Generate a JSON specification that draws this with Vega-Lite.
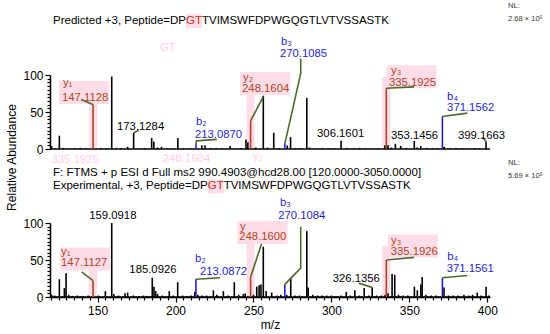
{
"$schema":"https://vega.github.io/schema/vega-lite/v6.json",
"width":440,"height":297,
"autosize":{"type":"none"},
"padding":{"left":50,"top":0,"right":60,"bottom":37},
"background":"white",
"config":{"view":{"stroke":null},"font":"Liberation Sans",
 "axis":{"labelFont":"Liberation Sans","labelFontSize":12,"labelColor":"#000","tickColor":"#000","domainColor":"#000","titleFont":"Liberation Sans","titleFontSize":12,"titleFontWeight":"normal","titleColor":"#000","grid":false,"domainWidth":1.5,"tickWidth":1.2},
 "text":{"font":"Liberation Sans","fontSize":11.3,"align":"left","baseline":"middle"}},
"datasets":{
"topPeaks":[
{"mz":120.5,"ab":4,"ion":"n"},{"mz":123,"ab":1,"ion":"n"},{"mz":125.5,"ab":18,"ion":"n"},{"mz":128,"ab":1.5,"ion":"n"},{"mz":131,"ab":1,"ion":"n"},{"mz":135,"ab":1,"ion":"n"},{"mz":139,"ab":1.5,"ion":"n"},{"mz":143,"ab":1,"ion":"n"},{"mz":147.11,"ab":60,"ion":"y"},{"mz":152,"ab":1.5,"ion":"n"},{"mz":156,"ab":1,"ion":"n"},{"mz":159.09,"ab":98,"ion":"n"},{"mz":162,"ab":1.5,"ion":"n"},{"mz":165,"ab":1,"ion":"n"},{"mz":169.3,"ab":3,"ion":"n"},{"mz":173.13,"ab":22,"ion":"n"},{"mz":177,"ab":1,"ion":"n"},{"mz":180.5,"ab":1.5,"ion":"n"},{"mz":184.7,"ab":15,"ion":"n"},{"mz":186.1,"ab":10,"ion":"n"},{"mz":188.5,"ab":2,"ion":"n"},{"mz":191,"ab":3,"ion":"n"},{"mz":195,"ab":1,"ion":"n"},{"mz":201.5,"ab":15,"ion":"n"},{"mz":205,"ab":1,"ion":"n"},{"mz":209,"ab":1,"ion":"n"},{"mz":213.09,"ab":6,"ion":"b"},{"mz":216.9,"ab":5,"ion":"n"},{"mz":218.9,"ab":5,"ion":"n"},{"mz":222,"ab":1.5,"ion":"n"},{"mz":226,"ab":1,"ion":"n"},{"mz":230,"ab":1,"ion":"n"},{"mz":235,"ab":4,"ion":"n"},{"mz":239,"ab":1,"ion":"n"},{"mz":242,"ab":1.5,"ion":"n"},{"mz":245.2,"ab":13,"ion":"n"},{"mz":246.4,"ab":9,"ion":"n"},{"mz":248.16,"ab":38,"ion":"y"},{"mz":251.5,"ab":2,"ion":"n"},{"mz":256.3,"ab":72,"ion":"n"},{"mz":259,"ab":2,"ion":"n"},{"mz":263,"ab":22,"ion":"n"},{"mz":266.5,"ab":1.5,"ion":"n"},{"mz":270.11,"ab":7,"ion":"b"},{"mz":271.7,"ab":5,"ion":"n"},{"mz":273.8,"ab":16,"ion":"n"},{"mz":277,"ab":1.5,"ion":"n"},{"mz":280,"ab":1,"ion":"n"},{"mz":284.2,"ab":69,"ion":"n"},{"mz":286,"ab":2,"ion":"n"},{"mz":290,"ab":1,"ion":"n"},{"mz":294,"ab":1.5,"ion":"n"},{"mz":298,"ab":1,"ion":"n"},{"mz":302,"ab":1,"ion":"n"},{"mz":306.16,"ab":11,"ion":"n"},{"mz":310,"ab":1.5,"ion":"n"},{"mz":314,"ab":1,"ion":"n"},{"mz":318,"ab":1.5,"ion":"n"},{"mz":322,"ab":1,"ion":"n"},{"mz":326,"ab":1,"ion":"n"},{"mz":330,"ab":1,"ion":"n"},{"mz":334.3,"ab":5,"ion":"n"},{"mz":335.19,"ab":82,"ion":"y"},{"mz":336.3,"ab":5,"ion":"n"},{"mz":338.5,"ab":2,"ion":"n"},{"mz":341,"ab":7,"ion":"n"},{"mz":344.4,"ab":4,"ion":"n"},{"mz":348,"ab":1.5,"ion":"n"},{"mz":353.15,"ab":11,"ion":"n"},{"mz":355,"ab":2,"ion":"n"},{"mz":357.3,"ab":4,"ion":"n"},{"mz":361,"ab":1.5,"ion":"n"},{"mz":365,"ab":1,"ion":"n"},{"mz":368,"ab":1,"ion":"n"},{"mz":371.16,"ab":44,"ion":"b"},{"mz":372.3,"ab":3,"ion":"n"},{"mz":376,"ab":1,"ion":"n"},{"mz":380,"ab":1.5,"ion":"n"},{"mz":384,"ab":1,"ion":"n"},{"mz":388,"ab":1,"ion":"n"},{"mz":392,"ab":1.5,"ion":"n"},{"mz":395,"ab":1,"ion":"n"},{"mz":399.17,"ab":10,"ion":"n"}],
"botPeaks":[
{"mz":120.5,"ab":3,"ion":"n"},{"mz":122.5,"ab":2,"ion":"n"},{"mz":125.5,"ab":24,"ion":"n"},{"mz":128.7,"ab":12,"ion":"n"},{"mz":129.8,"ab":32,"ion":"n"},{"mz":131.5,"ab":3,"ion":"n"},{"mz":134,"ab":1.5,"ion":"n"},{"mz":137,"ab":2,"ion":"n"},{"mz":140.5,"ab":1.5,"ion":"n"},{"mz":144,"ab":2,"ion":"n"},{"mz":147.11,"ab":22,"ion":"y"},{"mz":150.5,"ab":2,"ion":"n"},{"mz":155,"ab":8,"ion":"n"},{"mz":159.09,"ab":100,"ion":"n"},{"mz":160.5,"ab":4,"ion":"n"},{"mz":163.5,"ab":2,"ion":"n"},{"mz":167.6,"ab":5,"ion":"n"},{"mz":169.3,"ab":6,"ion":"n"},{"mz":173,"ab":2,"ion":"n"},{"mz":176.5,"ab":1.5,"ion":"n"},{"mz":179.5,"ab":2,"ion":"n"},{"mz":182,"ab":1.5,"ion":"n"},{"mz":185.09,"ab":26,"ion":"n"},{"mz":186.2,"ab":14,"ion":"n"},{"mz":187.3,"ab":8,"ion":"n"},{"mz":188.5,"ab":4,"ion":"n"},{"mz":191.5,"ab":2,"ion":"n"},{"mz":196,"ab":8,"ion":"n"},{"mz":198.5,"ab":2,"ion":"n"},{"mz":201.4,"ab":20,"ion":"n"},{"mz":204.5,"ab":2,"ion":"n"},{"mz":207.5,"ab":1.5,"ion":"n"},{"mz":210,"ab":2,"ion":"n"},{"mz":212.4,"ab":7,"ion":"n"},{"mz":213.09,"ab":24,"ion":"b"},{"mz":214.3,"ab":3,"ion":"n"},{"mz":217,"ab":2,"ion":"n"},{"mz":220,"ab":2,"ion":"n"},{"mz":224.3,"ab":9,"ion":"n"},{"mz":226.5,"ab":3,"ion":"n"},{"mz":230.7,"ab":8,"ion":"n"},{"mz":233.5,"ab":2,"ion":"n"},{"mz":237.7,"ab":20,"ion":"n"},{"mz":240.5,"ab":3,"ion":"n"},{"mz":243.5,"ab":4,"ion":"n"},{"mz":244.7,"ab":5,"ion":"n"},{"mz":248.16,"ab":27,"ion":"y"},{"mz":250,"ab":3,"ion":"n"},{"mz":252.1,"ab":14,"ion":"n"},{"mz":253.6,"ab":16,"ion":"n"},{"mz":254.8,"ab":17,"ion":"n"},{"mz":256.3,"ab":68,"ion":"n"},{"mz":258.1,"ab":8,"ion":"n"},{"mz":261.7,"ab":6,"ion":"n"},{"mz":265,"ab":2,"ion":"n"},{"mz":267.5,"ab":3,"ion":"n"},{"mz":270.11,"ab":17,"ion":"b"},{"mz":271.3,"ab":3,"ion":"n"},{"mz":273.9,"ab":26,"ion":"n"},{"mz":276.5,"ab":2,"ion":"n"},{"mz":279.5,"ab":2,"ion":"n"},{"mz":284.2,"ab":89,"ion":"n"},{"mz":285.1,"ab":13,"ion":"n"},{"mz":288,"ab":3,"ion":"n"},{"mz":291,"ab":2,"ion":"n"},{"mz":294,"ab":2,"ion":"n"},{"mz":297,"ab":2,"ion":"n"},{"mz":300,"ab":2,"ion":"n"},{"mz":303,"ab":1.5,"ion":"n"},{"mz":306,"ab":2,"ion":"n"},{"mz":309.5,"ab":7,"ion":"n"},{"mz":312,"ab":2,"ion":"n"},{"mz":315,"ab":9,"ion":"n"},{"mz":318,"ab":2,"ion":"n"},{"mz":321,"ab":12,"ion":"n"},{"mz":324,"ab":2,"ion":"n"},{"mz":326.14,"ab":13,"ion":"n"},{"mz":329,"ab":2,"ion":"n"},{"mz":332,"ab":2,"ion":"n"},{"mz":334.5,"ab":3,"ion":"n"},{"mz":335.19,"ab":50,"ion":"y"},{"mz":336.3,"ab":5,"ion":"n"},{"mz":338.9,"ab":31,"ion":"n"},{"mz":340.6,"ab":30,"ion":"n"},{"mz":343,"ab":3,"ion":"n"},{"mz":346,"ab":2,"ion":"n"},{"mz":349,"ab":2,"ion":"n"},{"mz":353.2,"ab":14,"ion":"n"},{"mz":355.1,"ab":9,"ion":"n"},{"mz":357.3,"ab":17,"ion":"n"},{"mz":358.2,"ab":27,"ion":"n"},{"mz":360.5,"ab":3,"ion":"n"},{"mz":364,"ab":2,"ion":"n"},{"mz":367,"ab":2,"ion":"n"},{"mz":371.16,"ab":26,"ion":"b"},{"mz":372.2,"ab":13,"ion":"n"},{"mz":375,"ab":2,"ion":"n"},{"mz":378,"ab":2,"ion":"n"},{"mz":381,"ab":2,"ion":"n"},{"mz":385,"ab":3,"ion":"n"},{"mz":388,"ab":2,"ion":"n"},{"mz":390.5,"ab":3,"ion":"n"},{"mz":393.5,"ab":6,"ion":"n"},{"mz":396,"ab":2,"ion":"n"},{"mz":399.17,"ab":14,"ion":"n"},{"mz":401,"ab":2,"ion":"n"}],
"topLabels":[
{"lx":127.8,"ly":88.8,"txt":"y₁","ion":"y"},{"lx":127.2,"ly":69.3,"txt":"147.1128","ion":"y"},
{"lx":162.5,"ly":29.5,"txt":"173.1284","ion":"n"},
{"lx":213.1,"ly":36.9,"txt":"b₂","ion":"b"},{"lx":212.5,"ly":18.9,"txt":"213.0870","ion":"b"},
{"lx":243.3,"ly":96.5,"txt":"y₂","ion":"y"},{"lx":242.7,"ly":80.5,"txt":"248.1604","ion":"y"},
{"lx":267.7,"ly":144.5,"txt":"b₃","ion":"b"},{"lx":267,"ly":128,"txt":"270.1085","ion":"b"},
{"lx":290.8,"ly":20.5,"txt":"306.1601","ion":"n"},
{"lx":338.2,"ly":105.5,"txt":"y₃","ion":"y"},{"lx":336.9,"ly":89.5,"txt":"335.1925","ion":"y"},
{"lx":374.2,"ly":70.7,"txt":"b₄","ion":"b"},{"lx":374.2,"ly":55,"txt":"371.1562","ion":"b"},
{"lx":338.2,"ly":17.6,"txt":"353.1456","ion":"n"},{"lx":381.2,"ly":17.6,"txt":"399.1663","ion":"n"}],
"botLabels":[
{"lx":144.7,"ly":109.5,"txt":"159.0918","ion":"n"},
{"lx":126.6,"ly":61.2,"txt":"y₁","ion":"y"},{"lx":126.6,"ly":45.5,"txt":"147.1127","ion":"y"},
{"lx":170.4,"ly":36.5,"txt":"185.0926","ion":"n"},
{"lx":212.5,"ly":50.9,"txt":"b₂","ion":"b"},{"lx":215.7,"ly":34.2,"txt":"213.0872","ion":"b"},
{"lx":241.4,"ly":95,"txt":"y","ion":"y"},{"lx":240.9,"ly":80.7,"txt":"248.1600","ion":"y"},
{"lx":267,"ly":127.5,"txt":"b₃","ion":"b"},{"lx":265.9,"ly":109.5,"txt":"270.1084","ion":"b"},
{"lx":300.8,"ly":24.7,"txt":"326.1356","ion":"n"},
{"lx":338.2,"ly":76.1,"txt":"y₃","ion":"y"},{"lx":338,"ly":60.4,"txt":"335.1926","ion":"y"},
{"lx":374.3,"ly":54.5,"txt":"b₄","ion":"b"},{"lx":373.9,"ly":37.4,"txt":"371.1561","ion":"b"}],
"topLeaders":[
{"id":"y1","ord":1,"mz":147.11,"ab":60},{"id":"y1","ord":2,"mz":139.4,"ab":67},
{"id":"a173","ord":1,"mz":173.13,"ab":22},{"id":"a173","ord":2,"mz":176.5,"ab":25.5},
{"id":"b2","ord":1,"mz":213.09,"ab":6},{"id":"b2","ord":2,"mz":213.4,"ab":11},{"id":"b2","ord":3,"mz":226.4,"ab":13},
{"id":"y2","ord":1,"mz":248.16,"ab":38},{"id":"y2","ord":2,"mz":256.3,"ab":70.7},
{"id":"b3","ord":1,"mz":270.11,"ab":7},{"id":"b3","ord":2,"mz":280.3,"ab":102},{"id":"b3","ord":3,"mz":280.3,"ab":122},
{"id":"y3","ord":1,"mz":335.19,"ab":82},{"id":"y3","ord":2,"mz":353,"ab":84},
{"id":"b4","ord":1,"mz":371.16,"ab":44},{"id":"b4","ord":2,"mz":387.2,"ab":48.5},
{"id":"a399","ord":1,"mz":399.17,"ab":10},{"id":"a399","ord":2,"mz":397,"ab":16}],
"botLeaders":[
{"id":"y1","ord":1,"mz":147.11,"ab":22},{"id":"y1","ord":2,"mz":139.8,"ab":34},
{"id":"b2","ord":1,"mz":213.09,"ab":24},{"id":"b2","ord":2,"mz":228.5,"ab":26},
{"id":"y2","ord":1,"mz":248.16,"ab":27},{"id":"y2","ord":2,"mz":255.2,"ab":72},
{"id":"b3","ord":1,"mz":270.11,"ab":17},{"id":"b3","ord":2,"mz":280.3,"ab":39},{"id":"b3","ord":3,"mz":280.3,"ab":95},
{"id":"a326","ord":1,"mz":326.14,"ab":13},{"id":"a326","ord":2,"mz":317.5,"ab":18.5},
{"id":"y3","ord":1,"mz":335.19,"ab":50},{"id":"y3","ord":2,"mz":353,"ab":53.6},
{"id":"b4","ord":1,"mz":371.16,"ab":26},{"id":"b4","ord":2,"mz":387.2,"ab":29}],
"topBoxes":[{"mz":147.11,"bx":141.3,"by":76.4},{"mz":248.16,"bx":257.4,"by":88.5},{"mz":335.19,"bx":351.4,"by":97.5}],
"botBoxes":[{"mz":147.11,"bx":141.9,"by":51.4},{"mz":248.16,"bx":255.8,"by":87.2},{"mz":335.19,"bx":352.3,"by":68.9}],
"topHead":[{"lx":121.42,"ly":173,"txt":"Predicted +3, Peptide=DP"},{"lx":216.95,"ly":173,"txt":"TVIMSWFDPWGQGTLVTVSSASTK"}],
"topGT":[{"lx":206.71,"bx":211.84,"ly":173,"txt":"GT"}],
"topNL":[{"lx":413.3,"ly":193,"txt":"NL:"},{"lx":413.3,"ly":176,"txt":"2.68 × 10⁵"}],
"ghost":[{"lx":120.5,"ly":-14.5,"txt":"335.1925"},{"lx":249.7,"ly":-11,"txt":"y₁"},{"lx":192,"ly":-13.5,"txt":"248.1604"},{"lx":190,"ly":136,"txt":"GT"}],
"botHead":[{"lx":121.42,"ly":168,"txt":"F: FTMS + p ESI d Full ms2 990.4903@hcd28.00 [120.0000-3050.0000]"},{"lx":121.42,"ly":149.5,"txt":"Experimental, +3, Peptide=DP"},{"lx":230.89,"ly":149.5,"txt":"TVIMSWFDPWGQGTLVTVSSASTK"}],
"botGT":[{"lx":220.65,"bx":225.78,"ly":149.5,"txt":"GT"}],
"botNL":[{"lx":413.3,"ly":181,"txt":"NL:"},{"lx":413.3,"ly":163.5,"txt":"5.69 × 10⁵"}]
},
"layer":[
{"layer":[
 {"data":{"name":"ghost"},"mark":{"type":"text","fontSize":11.3,"color":"#ff9fd8","opacity":0.55},
  "encoding":{"x":{"field":"lx","type":"quantitative","scale":{"domain":[119.5,401.7],"nice":false,"zero":false},"axis":null},
   "y":{"field":"ly","type":"quantitative","scale":{"domain":[0,100],"range":[149,75],"nice":false,"zero":false},"axis":null},"text":{"field":"txt"}}},
 {"data":{"name":"topBoxes"},"mark":{"type":"rule","color":"#ffdde8","strokeWidth":8},
  "encoding":{"x":{"field":"mz","type":"quantitative","axis":null},
   "y":{"field":"by","type":"quantitative","axis":null},"y2":{"datum":0}}},
 {"data":{"name":"topBoxes"},"mark":{"type":"point","shape":"M-2.17,-1H2.17V1H-2.17Z","size":529,"filled":true,"color":"#ffdde8","opacity":1,"strokeWidth":0},
  "encoding":{"x":{"field":"bx","type":"quantitative","axis":null},"y":{"field":"by","type":"quantitative","axis":null}}},
 {"data":{"name":"topGT"},"mark":{"type":"point","shape":"M-1.15,-1H1.15V1H-1.15Z","size":196,"filled":true,"color":"#ffdde8","opacity":1,"strokeWidth":0},
  "encoding":{"x":{"field":"bx","type":"quantitative","axis":null},"y":{"field":"ly","type":"quantitative","axis":null}}},
 {"data":{"values":[{}]},"mark":{"type":"rule","color":"#000","strokeWidth":1.5},
  "encoding":{"y":{"datum":0,"type":"quantitative","axis":{"orient":"left","values":[5,10,15,20,25,30,35,40,45,55,60,65,70,75,80,85,90,95],"tickSize":3,"labels":false,"domain":false,"title":null}}}},
 {"data":{"name":"topPeaks"},"mark":{"type":"rule","strokeWidth":1.6},
  "encoding":{"x":{"field":"mz","type":"quantitative","axis":null},
   "y":{"field":"ab","type":"quantitative","axis":{"orient":"left","values":[0,50,100],"tickSize":5,"labelPadding":2,"title":"Relative Abundance","titleX":-39,"titleY":157,"titleAngle":270,"titleAlign":"center","titleBaseline":"middle"}},
   "y2":{"datum":0},
   "color":{"field":"ion","type":"nominal","scale":{"domain":["n","y","b"],"range":["#000000","#b0441f","#1f1fd2"]},"legend":null}}},
 {"data":{"name":"topLeaders"},"mark":{"type":"line","color":"#4e6a2c","strokeWidth":1.6},
  "encoding":{"x":{"field":"mz","type":"quantitative","axis":null},"y":{"field":"ab","type":"quantitative","axis":null},"detail":{"field":"id"},"order":{"field":"ord","type":"quantitative"}}},
 {"data":{"name":"topLabels"},"mark":{"type":"text"},
  "encoding":{"x":{"field":"lx","type":"quantitative","axis":null},"y":{"field":"ly","type":"quantitative","axis":null},"text":{"field":"txt"},
   "color":{"field":"ion","type":"nominal","legend":null}}},
 {"data":{"name":"topHead"},"mark":{"type":"text","fontSize":11.5,"color":"#000"},
  "encoding":{"x":{"field":"lx","type":"quantitative","axis":null},"y":{"field":"ly","type":"quantitative","axis":null},"text":{"field":"txt"}}},
 {"data":{"name":"topGT"},"mark":{"type":"text","fontSize":11.5,"color":"#c8321e"},
  "encoding":{"x":{"field":"lx","type":"quantitative","axis":null},"y":{"field":"ly","type":"quantitative","axis":null},"text":{"field":"txt"}}},
 {"data":{"name":"topNL"},"mark":{"type":"text","fontSize":7.5,"color":"#333"},
  "encoding":{"x":{"field":"lx","type":"quantitative","axis":null},"y":{"field":"ly","type":"quantitative","axis":null},"text":{"field":"txt"}}}
],"resolve":{"axis":{"y":"independent"}}},
{"layer":[
 {"data":{"name":"botBoxes"},"mark":{"type":"rule","color":"#ffdde8","strokeWidth":8},
  "encoding":{"x":{"field":"mz","type":"quantitative","scale":{"domain":[119.5,401.7],"nice":false,"zero":false},"axis":{"orient":"bottom","values":[120,125,130,135,140,145,155,160,165,170,175,180,185,190,195,205,210,215,220,225,230,235,240,245,255,260,265,270,275,280,285,290,295,305,310,315,320,325,330,335,340,345,355,360,365,370,375,380,385,390,395],"tickSize":3,"labels":false,"domain":false,"title":null}},
   "y":{"field":"by","type":"quantitative","scale":{"domain":[0,100],"range":[297,223],"nice":false,"zero":false},"axis":null},"y2":{"datum":0}}},
 {"data":{"name":"botBoxes"},"mark":{"type":"point","shape":"M-2.17,-1H2.17V1H-2.17Z","size":529,"filled":true,"color":"#ffdde8","opacity":1,"strokeWidth":0},
  "encoding":{"x":{"field":"bx","type":"quantitative","axis":null},"y":{"field":"by","type":"quantitative","axis":null}}},
 {"data":{"name":"botGT"},"mark":{"type":"point","shape":"M-1.15,-1H1.15V1H-1.15Z","size":196,"filled":true,"color":"#ffdde8","opacity":1,"strokeWidth":0},
  "encoding":{"x":{"field":"bx","type":"quantitative","axis":null},"y":{"field":"ly","type":"quantitative","axis":null}}},
 {"data":{"values":[{}]},"mark":{"type":"rule","color":"#000","strokeWidth":1.5},
  "encoding":{"y":{"datum":0,"type":"quantitative","axis":{"orient":"left","values":[5,10,15,20,25,30,35,40,45,55,60,65,70,75,80,85,90,95],"tickSize":3,"labels":false,"domain":false,"title":null}}}},
 {"data":{"name":"botPeaks"},"mark":{"type":"rule","strokeWidth":1.6},
  "encoding":{"x":{"field":"mz","type":"quantitative","axis":{"orient":"bottom","values":[150,200,250,300,350,400],"tickSize":5,"labelPadding":3,"title":"m/z","titlePadding":3}},
   "y":{"field":"ab","type":"quantitative","axis":{"orient":"left","values":[0,50,100],"tickSize":5,"labelPadding":2,"title":null}},
   "y2":{"datum":0},
   "color":{"field":"ion","type":"nominal","scale":{"domain":["n","y","b"],"range":["#000000","#b0441f","#1f1fd2"]},"legend":null}}},
 {"data":{"name":"botLeaders"},"mark":{"type":"line","color":"#4e6a2c","strokeWidth":1.6},
  "encoding":{"x":{"field":"mz","type":"quantitative","axis":null},"y":{"field":"ab","type":"quantitative","axis":null},"detail":{"field":"id"},"order":{"field":"ord","type":"quantitative"}}},
 {"data":{"name":"botLabels"},"mark":{"type":"text"},
  "encoding":{"x":{"field":"lx","type":"quantitative","axis":null},"y":{"field":"ly","type":"quantitative","axis":null},"text":{"field":"txt"},
   "color":{"field":"ion","type":"nominal","legend":null}}},
 {"data":{"name":"botHead"},"mark":{"type":"text","fontSize":11.5,"color":"#000"},
  "encoding":{"x":{"field":"lx","type":"quantitative","axis":null},"y":{"field":"ly","type":"quantitative","axis":null},"text":{"field":"txt"}}},
 {"data":{"name":"botGT"},"mark":{"type":"text","fontSize":11.5,"color":"#c8321e"},
  "encoding":{"x":{"field":"lx","type":"quantitative","axis":null},"y":{"field":"ly","type":"quantitative","axis":null},"text":{"field":"txt"}}},
 {"data":{"name":"botNL"},"mark":{"type":"text","fontSize":7.5,"color":"#333"},
  "encoding":{"x":{"field":"lx","type":"quantitative","axis":null},"y":{"field":"ly","type":"quantitative","axis":null},"text":{"field":"txt"}}}
],"resolve":{"axis":{"y":"independent","x":"independent"}}}
],
"resolve":{"scale":{"y":"independent"},"axis":{"y":"independent","x":"independent"}}
}
